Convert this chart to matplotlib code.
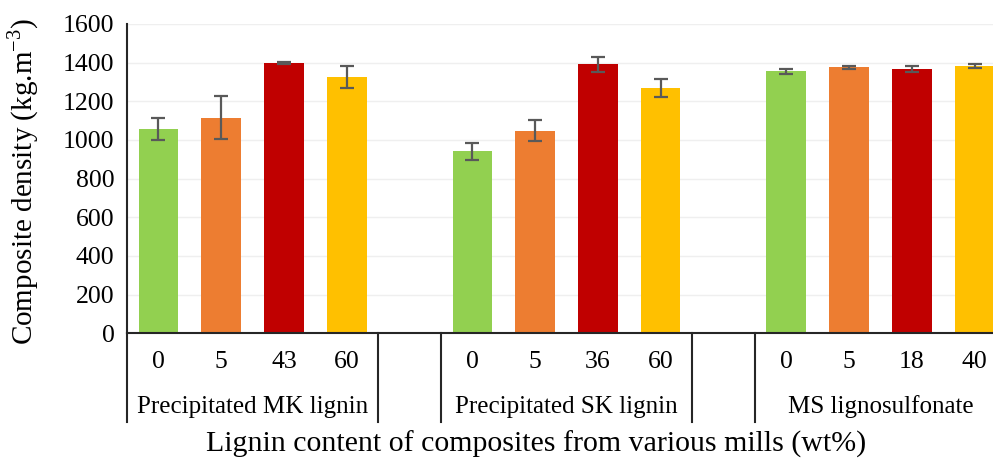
import matplotlib
matplotlib.use("Agg")
import matplotlib.pyplot as plt
import matplotlib.transforms as mtransforms

plt.rcParams['font.family'] = ['Liberation Serif', 'DejaVu Serif']
plt.rcParams['mathtext.fontset'] = 'custom'
plt.rcParams['mathtext.rm'] = 'Liberation Serif'

# ---- data ----
groups = ['Precipitated MK lignin', 'Precipitated SK lignin', 'MS lignosulfonate']
contents = [['0', '5', '43', '60'], ['0', '5', '36', '60'], ['0', '5', '18', '40']]
density = [[1055, 1115, 1397, 1325],
           [940, 1048, 1390, 1270],
           [1355, 1376, 1365, 1380]]
errors = [[58, 110, 5, 58],
          [45, 53, 38, 46],
          [12, 8, 16, 10]]
colors = ['#92D050', '#ED7D31', '#C00000', '#FFC000']

fig = plt.figure(figsize=(9.93, 4.59), dpi=100)
ax = fig.add_axes([0.128, 0.274, 0.885, 0.674])

# each group takes 4 slots, one empty slot between groups
xpos, xlab = [], []
for g in range(len(groups)):
    for i in range(4):
        x = g * 5 + i
        ax.bar(x, density[g][i], width=0.63, color=colors[i], zorder=2)
        ax.errorbar(x, density[g][i], yerr=errors[g][i], fmt='none',
                    ecolor='#595959', elinewidth=1.6, capsize=5, capthick=1.6, zorder=3)
        xpos.append(x)
        xlab.append(contents[g][i])

ax.set_xlim(-0.5, 13.5)
ax.set_ylim(0, 1600)
ax.set_yticks(range(0, 1601, 200))
ax.grid(axis='y', color='#efefef', linewidth=1, zorder=0)
ax.set_axisbelow(True)
ax.tick_params(axis='y', length=0, pad=9, labelsize=18.5)
ax.set_xticks(xpos)
ax.set_xticklabels(xlab)
ax.tick_params(axis='x', length=0, pad=13, labelsize=18.5)

for s in ['top', 'right']:
    ax.spines[s].set_visible(False)
for s in ['left', 'bottom']:
    ax.spines[s].set_color('#262626')
    ax.spines[s].set_linewidth(1.5)

# group labels and separators below the axis
trans = mtransforms.blended_transform_factory(ax.transData, ax.transAxes)
for g, name in enumerate(groups):
    ax.text(g * 5 + 1.5, -0.238, name, transform=trans, ha='center', va='center', fontsize=18)
for sx in [-0.5, 3.5, 4.5, 8.5, 9.5, 13.5]:
    ax.plot([sx, sx], [0, -0.288], transform=trans, color='#262626', linewidth=1.5, clip_on=False)

ax.set_ylabel('Composite density (kg.m$^{-3}$)', fontsize=21, labelpad=5)
ax.yaxis.set_label_coords(-0.098, 0.49)
fig.text(0.54, 0.032, 'Lignin content of composites from various mills (wt%)',
         ha='center', va='center', fontsize=21.5)

fig.savefig('out.png', dpi=100)
